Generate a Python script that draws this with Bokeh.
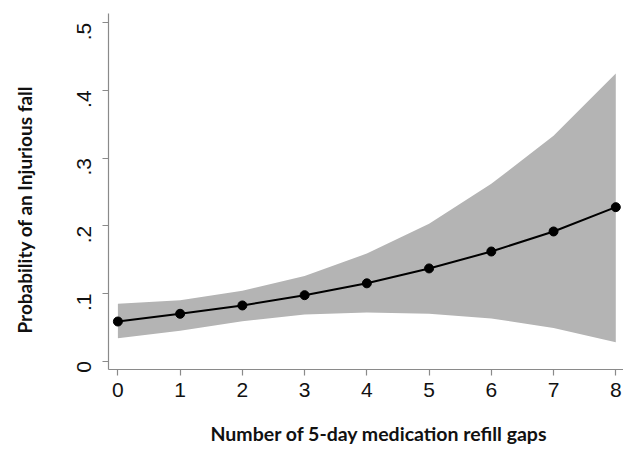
import math
from bokeh.plotting import figure
from bokeh.models import ColumnDataSource, FixedTicker, Range1d, Title
from bokeh.embed import file_html
from bokeh.resources import INLINE

gaps = [0, 1, 2, 3, 4, 5, 6, 7, 8]
prob = [0.0586, 0.070, 0.0823, 0.0975, 0.115, 0.137, 0.162, 0.1916, 0.2275]
upper = [0.085, 0.090, 0.104, 0.126, 0.159, 0.203, 0.262, 0.333, 0.425]
lower = [0.034, 0.045, 0.059, 0.069, 0.072, 0.070, 0.063, 0.049, 0.028]
y_ticks = [0, 0.1, 0.2, 0.3, 0.4, 0.5]
y_tick_labels = ["0", ".1", ".2", ".3", ".4", ".5"]
x_title = "Number of 5-day medication refill gaps"
y_title = "Probability of an Injurious fall"

src = ColumnDataSource(dict(x=gaps, y=prob, lo=lower, hi=upper))

p = figure(width=623, height=473, output_backend="svg", toolbar_location=None,
           x_range=Range1d(-0.151, 8.124), y_range=Range1d(-0.0123, 0.5136),
           min_border_left=108, min_border_right=0, min_border_top=13, min_border_bottom=104)
p.outline_line_color = None
p.grid.visible = False
p.background_fill_color = "white"

p.varea(x="x", y1="lo", y2="hi", source=src, fill_color="#b4b4b4", fill_alpha=1.0)
p.line(x="x", y="y", source=src, line_color="black", line_width=2)
p.scatter(x="x", y="y", source=src, size=9, fill_color="black", line_color="black")

for ax in (p.xaxis[0], p.yaxis[0]):
    ax.axis_line_color = "#8a8a8a"
    ax.axis_line_width = 1.2
    ax.major_tick_line_color = "#8a8a8a"
    ax.major_tick_line_width = 1.2
    ax.major_tick_out = 6
    ax.major_tick_in = 0
    ax.minor_tick_line_color = None
    ax.major_label_text_font = "Liberation Sans"
    ax.major_label_text_font_size = "21px"
    ax.major_label_text_color = "#111111"
    ax.major_label_standoff = 7

p.xaxis.ticker = FixedTicker(ticks=gaps)
p.yaxis.ticker = FixedTicker(ticks=y_ticks)
p.yaxis.major_label_overrides = {t: l for t, l in zip(y_ticks, y_tick_labels)}
p.yaxis.major_label_orientation = math.pi / 2
p.yaxis.major_label_standoff = 18

xt = Title(text=x_title, align="left", offset=102, standoff=41, text_font="Lato",
           text_font_style="bold", text_font_size="19.5px", text_color="#111111")
spacer = Title(text=" ", standoff=28, text_font_size="1px")
yt = Title(text=y_title, align="left", offset=36, standoff=2,
           text_font="Lato", text_font_style="bold", text_font_size="19px",
           text_color="#111111")
p.add_layout(xt, "below")
p.add_layout(spacer, "left")
p.add_layout(yt, "left")

open("out.html", "w").write(file_html(p, INLINE))
